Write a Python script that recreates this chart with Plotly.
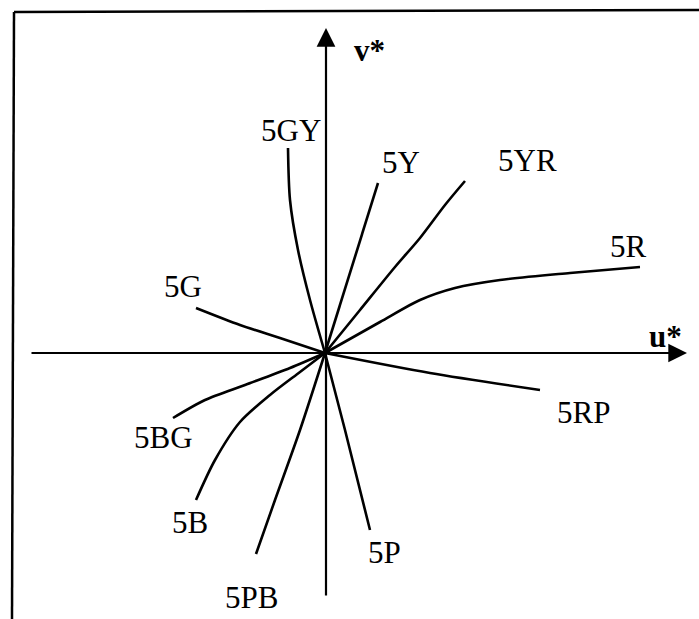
import plotly.graph_objects as go

# Munsell hue loci on the u*v* plane (u*, v* units, origin at the neutral point)
hues = ["5R", "5YR", "5Y", "5GY", "5G", "5BG", "5B", "5PB", "5P", "5RP"]
loci = {
    "5R":  [(0, 0), (55, 31), (95, 53), (130, 65), (175, 73), (245, 80), (315, 86)],
    "5YR": [(0, 0), (35, 43), (70, 86), (95, 115), (120, 148), (140, 172)],
    "5Y":  [(0, 0), (53, 170)],
    "5GY": [(0, 0), (-15, 53), (-27, 103), (-35, 153), (-37, 205)],
    "5G":  [(-129, 45), (-85, 28), (-45, 15), (0, 0)],
    "5BG": [(-152, -65), (-120, -47), (-80, -32), (-35, -15), (0, 0)],
    "5B":  [(-129, -147), (-110, -107), (-85, -69), (-55, -42), (-25, -19), (0, 0)],
    "5PB": [(-69, -201), (-50, -147), (-25, -77), (0, 0)],
    "5P":  [(45, -177), (20, -77), (0, 0)],
    "5RP": [(0, 0), (105, -20), (215, -37)],
}
label_pos = {
    "5R": (303, 107), "5YR": (202, 193), "5Y": (76, 191), "5GY": (-34, 223),
    "5G": (-142, 67), "5BG": (-162, -84), "5B": (-135, -169), "5PB": (-74, -244),
    "5P": (59, -199), "5RP": (258, -59),
}
axis_names = ["u*", "v*"]

fig = go.Figure()
for h in hues:
    pts = loci[h]
    fig.add_trace(go.Scatter(
        x=[p[0] for p in pts], y=[p[1] for p in pts],
        mode="lines", line=dict(color="black", width=2.6, shape="spline", smoothing=0.8),
        hoverinfo="skip", showlegend=False,
    ))

font = dict(family="Liberation Serif, Times New Roman, serif", size=31, color="black")
for h in hues:
    lx, ly = label_pos[h]
    fig.add_annotation(x=lx, y=ly, text=h, showarrow=False, font=font,
                       xanchor="center", yanchor="middle")

# axes with arrowheads
arrow = dict(showarrow=True, arrowhead=2, arrowsize=1.7, arrowwidth=2.2,
             arrowcolor="black", text="", axref="x", ayref="y", xref="x", yref="y")
fig.add_annotation(x=362, y=0, ax=-295, ay=0, **arrow)
fig.add_annotation(x=1, y=325, ax=1, ay=-244, **arrow)
fig.add_annotation(x=340, y=17, text="<b>" + axis_names[0] + "</b>", showarrow=False, font=font)
fig.add_annotation(x=44, y=303, text="<b>" + axis_names[1] + "</b>", showarrow=False, font=font)

# frame (top and left edges)
fig.add_shape(type="line", xref="paper", yref="paper", x0=14 / 699, y0=1 - 12 / 619,
              x1=1, y1=1 - 10 / 619, line=dict(color="black", width=2.5))
fig.add_shape(type="line", xref="paper", yref="paper", x0=14 / 699, y0=1 - 12 / 619,
              x1=12 / 699, y1=0, line=dict(color="black", width=2.5))

fig.update_layout(
    width=699, height=619, margin=dict(l=0, r=0, t=0, b=0),
    paper_bgcolor="white", plot_bgcolor="white",
    xaxis=dict(range=[-325, 374], visible=False, fixedrange=True),
    yaxis=dict(range=[-266, 353], visible=False, fixedrange=True),
)
fig.write_html("out.html")
